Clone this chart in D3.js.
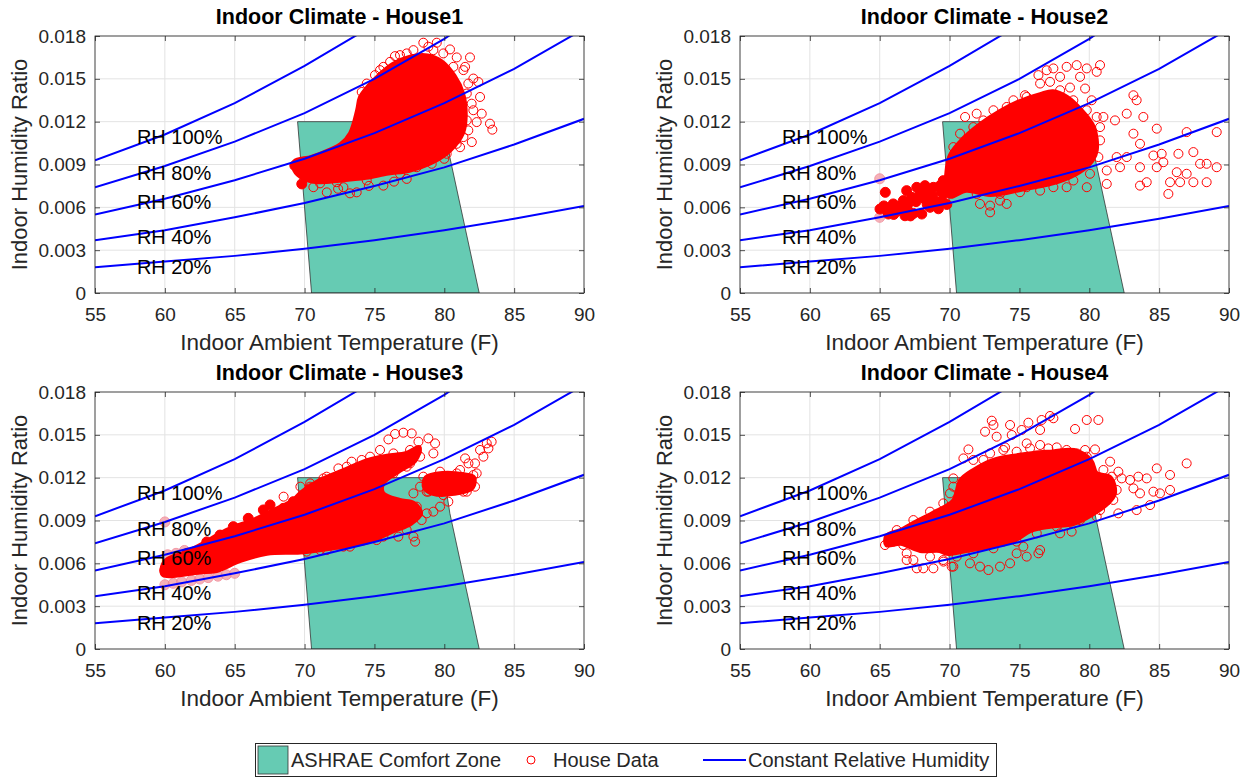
<!DOCTYPE html>
<html>
<head>
<meta charset="utf-8">
<script src="https://cdn.jsdelivr.net/npm/d3@7"></script>
<style>
  body { margin: 0; background: #fff; }
  text { font-family: "Liberation Sans", Arial, Helvetica, sans-serif; }
</style>
</head>
<body>
<svg id="chart" width="1251" height="779"></svg>
<script>
// ---- axes / reference curves ----
const xTicks = [55, 60, 65, 70, 75, 80, 85, 90];
const yTicks = [0, 0.003, 0.006, 0.009, 0.012, 0.015, 0.018];

// constant relative humidity curves, read at 5 F steps
const rhTemps = [55, 60, 65, 70, 75, 80, 85, 90];
const rh100 = [0.0093, 0.0111, 0.0133, 0.0159, 0.0188, 0.0223, 0.0264, 0.0312];
const rh80  = [0.0074, 0.0089, 0.0106, 0.0126, 0.0150, 0.0178, 0.0211, 0.0249];
const rh60  = [0.0055, 0.0066, 0.0079, 0.0094, 0.0112, 0.0133, 0.0157, 0.0185];
const rh40  = [0.0037, 0.0044, 0.0053, 0.0063, 0.0075, 0.0088, 0.0104, 0.0122];
const rh20  = [0.0018, 0.0022, 0.0026, 0.0031, 0.0037, 0.0044, 0.0052, 0.0061];
const rhLabels = ["RH 100%", "RH 80%", "RH 60%", "RH 40%", "RH 20%"];
const rhLabelT = 58;
const rhLabelW = [0.0109, 0.0084, 0.0064, 0.0039, 0.0018];

// ASHRAE comfort zone polygon
const zoneT = [69.5, 80.0, 80.4, 82.5, 70.5];
const zoneW = [0.012, 0.012, 0.0095, 0, 0];

// ---- house data (dense cores as outlines, sparse points individually) ----
const house1Core = [[69.3,0.0092],[70.5,0.0095],[71.8,0.0100],[72.6,0.0104],[73.3,0.0112],[73.8,0.0128],[74.0,0.0137],
  [74.6,0.0145],[75.3,0.0152],[76.3,0.0160],[77.5,0.0165],[78.8,0.0166],[79.8,0.0162],[80.7,0.0152],[81.3,0.0140],
  [81.5,0.0125],[81.3,0.0112],[80.4,0.0100],[79.2,0.0092],[77.5,0.0086],[76.0,0.0084],[74.4,0.0081],[72.5,0.0079],
  [71.0,0.0078],[70.0,0.0080],[69.3,0.0086]];
const house1Open = [[78.50,0.01753],[79.46,0.01753],[78.86,0.01725],[80.41,0.01706],[77.31,0.01678],[75.40,0.01561],
  [76.47,0.01659],[80.89,0.0165],[81.84,0.0165],[81.49,0.01584],[82.08,0.01502],[82.44,0.01478],[82.56,0.01373],
  [82.68,0.01256],[82.32,0.01197],[83.27,0.01186],[83.44,0.01144],[81.97,0.01057],[81.13,0.01021],[79.10,0.00905],
  [77.31,0.00799],[75.64,0.00752],[73.25,0.00698],[71.59,0.00705],[73.73,0.00705],[71.11,0.00768],[72.4,0.0073],
  [74.6,0.0075],[76.4,0.0078],[80.0,0.0094],
  [81.37,0.01561],[81.72,0.01467],[81.61,0.01397],[81.96,0.01326],[82.08,0.01280],[81.61,0.01209],[81.72,0.01139],
  [81.37,0.01092],[80.89,0.01045],[80.17,0.00975],[80.65,0.01584],[79.93,0.01678],[79.22,0.01701],[77.79,0.01701],
  [76.83,0.01666],[76.12,0.01619],[75.64,0.01584],[75.04,0.01526],[74.45,0.01467],[74.09,0.01408],[78.03,0.00881],
  [76.83,0.00835],[74.45,0.00788],[72.78,0.00741],[72.30,0.00776],[70.63,0.00741],[70.15,0.00811]];
const house1Filled = [[69.3,0.00893],[69.8,0.00764]];

const house2Core = [[70.0,0.0095],[70.8,0.0106],[72.2,0.0118],[73.6,0.0127],[75.0,0.0134],[76.5,0.0139],[77.4,0.0141],
  [78.4,0.0137],[79.4,0.0128],[80.3,0.0116],[80.5,0.0100],[80.2,0.0093],[79.3,0.0085],[77.7,0.0078],[75.3,0.0073],
  [72.9,0.0069],[71.2,0.0072],[70.0,0.0068]];
const house2Open = [[76.36,0.01526],[77.43,0.01573],[78.38,0.01584],[79.10,0.01596],[79.82,0.01573],[80.77,0.01596],
  [80.53,0.01549],[79.34,0.01514],[78.62,0.01439],[76.48,0.01467],[75.40,0.01385],[74.57,0.0135],[73.14,0.0128],
  [71.94,0.01256],[71.11,0.01233],[70.75,0.01116],[80.17,0.0135],[81.01,0.01233],[80.77,0.01162],[81.84,0.01209],
  [82.68,0.01256],[83.16,0.01385],[83.39,0.0135],[83.87,0.01233],[84.83,0.01151],[86.97,0.01127],[89.12,0.01127],
  [83.16,0.01116],[83.63,0.01045],[84.59,0.00963],[85.18,0.00975],[86.38,0.00975],[87.45,0.00987],[85.30,0.00916],
  [86.26,0.00846],[86.97,0.00835],[87.93,0.00905],[88.40,0.00905],[89.12,0.00881],[85.78,0.00776],[86.50,0.00776],
  [87.45,0.00776],[88.40,0.00776],[83.63,0.00752],[84.11,0.00776],[85.66,0.00694],[82.20,0.00881],[81.25,0.00858],
  [81.25,0.00764],[79.82,0.00741],[78.38,0.00741],[76.48,0.00717],[75.04,0.00706],[74.09,0.00624],[72.90,0.00565],
  [72.90,0.00612],[73.61,0.00647],[72.18,0.00624],[70.27,0.00905],[70.99,0.00858],[81.96,0.00952],[82.68,0.00952],
  [83.63,0.00881],[84.83,0.00881],[76.95,0.0156],[77.91,0.01514],[79.70,0.01432],
  [71.70,0.01162],[72.42,0.01209],[74.09,0.01303],[75.52,0.01373],[77.19,0.01479],[77.91,0.01420],[78.86,0.01350],
  [79.82,0.01280],[80.53,0.01233],[80.77,0.01069],[80.65,0.00952],[80.05,0.00835],[78.86,0.00788],[77.43,0.00741],
  [75.52,0.00741],[73.61,0.00694],[71.94,0.00694],[70.75,0.00741],[70.03,0.00835],[70.27,0.01022]];
const house2Filled = [[65.02,0.00588],[65.62,0.00553],[66.22,0.00572],[66.81,0.00541],[67.41,0.00557],[68.01,0.00553],
  [65.97,0.00624],[66.69,0.00647],[67.29,0.0067],[67.88,0.00694],[68.48,0.00705],[68.84,0.0074],[69.32,0.00752],
  [69.55,0.00787],[70.03,0.00823],[66.93,0.00717],[67.65,0.0074],[68.24,0.00752],[68.84,0.00647],[69.44,0.00647],
  [65.4,0.00705],[65.3,0.0061],[65.5,0.0058],[67.0,0.0058],[68.4,0.0062],[69.8,0.0070],
  [65.8,0.0058],[66.4,0.0060],[67.0,0.0062],[67.6,0.0064],[68.2,0.0066],[68.8,0.0068],[69.4,0.0071],[66.0,0.0055],
  [67.2,0.0054],[68.6,0.0060],[69.2,0.0059],[69.8,0.0062],[70.0,0.0073],[70.2,0.0077]];
const house2Faint = [[65.0,0.0080],[65.0,0.0053]];

const house3Core = [[59.8,0.0056],[60.1,0.0062],[61.6,0.0068],[63.0,0.0075],[64.0,0.0081],[64.9,0.0085],[66.3,0.0090],
  [67.8,0.0097],[69.2,0.0104],[69.7,0.0109],[71.1,0.0118],[72.8,0.0125],[74.5,0.0132],[75.9,0.0135],[77.3,0.0137],
  [78.2,0.0141],[77.9,0.0132],[76.8,0.0125],[75.6,0.0116],[75.6,0.0109],[76.8,0.0104],[77.8,0.0102],[78.3,0.0095],
  [77.6,0.0088],[76.4,0.0083],[74.5,0.0075],[72.1,0.0071],[69.7,0.0068],[67.3,0.0067],[65.4,0.0062],[63.7,0.0055],
  [62.5,0.0054],[59.9,0.0052]];
const house3RightCore = [[78.7,0.0120],[79.9,0.0123],[81.4,0.0122],[82.1,0.0120],[82.0,0.0113],[80.7,0.0109],
  [79.2,0.0109],[78.6,0.0113]];
const house3Open = [[76.00,0.01468],[76.48,0.01506],[77.07,0.01515],[77.67,0.01510],[78.15,0.01452],[78.86,0.01475],
  [79.34,0.01440],[79.22,0.01370],[78.03,0.01382],[75.40,0.01394],[74.09,0.01324],[73.37,0.01312],[72.42,0.01265],
  [71.35,0.01195],[70.39,0.01137],[77.31,0.01277],[81.49,0.01335],[81.73,0.01300],[82.20,0.01300],[82.56,0.01394],
  [82.80,0.01347],[83.16,0.01405],[83.39,0.01452],[83.04,0.01440],[81.13,0.01254],[80.29,0.01032],[79.70,0.00997],
  [79.22,0.00962],[78.74,0.00950],[77.79,0.00787],[77.91,0.00752],[76.71,0.00787],[75.64,0.00787],[73.25,0.00717],
  [71.58,0.00693],[70.15,0.00682],[78.27,0.01137],[77.79,0.01090],[77.31,0.00997],[81.61,0.01102],[78.86,0.01102],
  [82.32,0.01230],[69.7,0.01137],[68.5,0.01067],[70.4,0.0116],
  [70.39,0.01125],[71.58,0.01207],[73.02,0.01277],[74.69,0.01347],[76.36,0.01370],[77.55,0.01394],[78.27,0.01347],
  [77.55,0.01300],[76.36,0.01230],[75.88,0.01044],[78.03,0.00997],[78.38,0.00903],[77.31,0.00833],[75.16,0.00763],
  [72.78,0.00717],[71.11,0.00693],[78.50,0.01207],[79.70,0.01242],[80.89,0.01230],[82.08,0.01218],[82.20,0.01137],
  [81.37,0.01102],[79.93,0.01078],[78.74,0.01102]];
const house3Filled = [[63.95,0.00798],[64.9,0.00857],[65.97,0.00915],[67.05,0.00974],[67.53,0.01009],[68.48,0.00985],
  [69.2,0.01032],[63.0,0.0075],[61.6,0.0067],[60.4,0.0060],[60.0,0.0055],[60.85,0.00565],[62.04,0.0060],[63.47,0.00623],
  [64.9,0.00658],[66.33,0.00693],[67.76,0.00717],[69.2,0.0074]];
const house3Faint = [[60.0,0.0089],[60.0,0.0045],[60.6,0.0046],[61.2,0.0047],[61.9,0.0048],[62.5,0.0049],[63.1,0.0050],
  [63.8,0.0051],[64.4,0.0052],[65.0,0.0053],[60.2,0.0066],[60.8,0.0067],[61.4,0.0069]];

const house4Core = [[65.5,0.0079],[66.5,0.0083],[67.4,0.0088],[68.8,0.0095],[70.3,0.0104],[70.8,0.0118],[71.7,0.0125],
  [73.1,0.0132],[74.6,0.0135],[76.0,0.0137],[77.4,0.0138],[78.9,0.0139],[80.1,0.0132],[80.5,0.0123],[81.5,0.0120],
  [81.8,0.0109],[81.3,0.0102],[80.3,0.0095],[78.9,0.0088],[77.2,0.0086],[75.8,0.0083],[74.6,0.0076],[72.9,0.0072],
  [71.2,0.0069],[69.8,0.0067],[69.3,0.0069],[67.9,0.0069],[66.5,0.0074],[65.5,0.0073]];
const house4Open = [[73.02,0.01599],[73.14,0.01569],[72.54,0.01522],[73.37,0.01487],[74.33,0.01569],[74.45,0.01499],
  [75.16,0.01534],[75.64,0.01585],[76.48,0.01534],[77.19,0.01632],[77.43,0.01616],[76.59,0.01604],[78.98,0.01541],
  [79.82,0.01604],[80.65,0.01604],[71.35,0.01398],[70.99,0.01335],[72.42,0.01324],[73.97,0.01412],[75.52,0.01440],
  [76.48,0.01429],[77.07,0.01405],[78.38,0.01394],[79.70,0.01394],[80.41,0.01398],[81.49,0.01312],[82.08,0.01242],
  [82.32,0.01195],[82.92,0.01184],[83.51,0.01207],[84.11,0.01195],[84.83,0.01265],[85.78,0.01219],[86.97,0.01300],
  [83.16,0.01125],[83.63,0.01090],[84.59,0.01102],[85.06,0.01090],[85.78,0.01114],[84.35,0.01008],[83.39,0.00973],
  [82.08,0.00950],[80.53,0.00927],[78.74,0.00822],[77.91,0.00810],[76.48,0.00693],[76.36,0.00670],[75.52,0.00647],
  [74.80,0.00670],[74.33,0.00600],[73.61,0.00577],[72.78,0.00553],[72.18,0.00577],[71.46,0.00600],[70.27,0.00577],
  [69.56,0.00612],[75.28,0.00717],[73.85,0.00752],[65.38,0.00728],[65.98,0.00752],[66.93,0.00670],[67.41,0.00623],
  [67.65,0.00565],[68.12,0.00565],[68.84,0.00565],[66.93,0.00623],[68.60,0.00647],[69.55,0.00623],[70.15,0.00577],
  [70.27,0.01195],[68.12,0.00857],[66.93,0.00810],
  [71.70,0.01324],[72.90,0.01370],[73.85,0.01394],[74.80,0.01382],[75.76,0.01405],[77.67,0.01412],[79.10,0.01370],
  [79.82,0.01347],[81.01,0.01254],[81.61,0.01207],[81.96,0.01114],[81.72,0.01044],[80.77,0.00973],[79.34,0.00903],
  [77.67,0.00857],[76.24,0.00810],[74.80,0.00752],[73.14,0.00705],[71.70,0.00670],[70.51,0.00647],[69.32,0.00717],
  [66.22,0.00833],[67.41,0.00903],[68.60,0.00962],[69.55,0.01020],[70.03,0.01090],[70.27,0.01137],[66.69,0.00728],
  [68.36,0.00717]];

const panels = [
  {title: "Indoor Climate - House1", left: 95,  top: 36,  cores: [house1Core], open: house1Open, filled: house1Filled, faint: []},
  {title: "Indoor Climate - House2", left: 740, top: 36,  cores: [house2Core], open: house2Open, filled: house2Filled, faint: house2Faint},
  {title: "Indoor Climate - House3", left: 95,  top: 392, cores: [house3Core, house3RightCore], open: house3Open, filled: house3Filled, faint: house3Faint},
  {title: "Indoor Climate - House4", left: 740, top: 392, cores: [house4Core], open: house4Open, filled: [], faint: []}
];

const W = 489, H = 257;
const RED = "#ff0000", BLUE = "#0000ff", ZONE = "#66cbb3", INK = "#262626";
const rhSeries = [rh100, rh80, rh60, rh40, rh20];

const svg = d3.select("#chart");
const defs = svg.append("defs");

panels.forEach(function(p, i) {
  const x = d3.scaleLinear().domain([55, 90]).range([0, W]);
  const y = d3.scaleLinear().domain([0, 0.018]).range([H, 0]);

  defs.append("clipPath").attr("id", "clip" + i)
    .append("rect").attr("width", W).attr("height", H);

  const g = svg.append("g").attr("transform", `translate(${p.left},${p.top})`);

  // grid
  g.append("g").selectAll("line").data(xTicks).join("line")
    .attr("x1", d => x(d)).attr("x2", d => x(d)).attr("y1", 0).attr("y2", H)
    .attr("stroke", "#e3e3e3");
  g.append("g").selectAll("line").data(yTicks).join("line")
    .attr("y1", d => y(d)).attr("y2", d => y(d)).attr("x1", 0).attr("x2", W)
    .attr("stroke", "#e3e3e3");

  const plot = g.append("g").attr("clip-path", `url(#clip${i})`);

  // comfort zone
  plot.append("path")
    .datum(zoneT.map((t, k) => [t, zoneW[k]]))
    .attr("d", d3.line().x(d => x(d[0])).y(d => y(d[1])).curve(d3.curveLinearClosed))
    .attr("fill", ZONE).attr("stroke", "#333").attr("stroke-width", 0.8);

  // faint points
  plot.append("g").selectAll("circle").data(p.faint).join("circle")
    .attr("cx", d => x(d[0])).attr("cy", d => y(d[1])).attr("r", 5)
    .attr("fill", "#f4a0a8").attr("stroke", "#f08090").attr("stroke-width", 1).attr("opacity", 0.8);

  // dense cores
  const coreLine = d3.line().x(d => x(d[0])).y(d => y(d[1])).curve(d3.curveCatmullRomClosed.alpha(0.5));
  plot.append("g").selectAll("path").data(p.cores).join("path")
    .attr("d", coreLine)
    .attr("fill", RED).attr("stroke", RED).attr("stroke-width", 5).attr("stroke-linejoin", "round");

  // open circles
  plot.append("g").selectAll("circle").data(p.open).join("circle")
    .attr("cx", d => x(d[0])).attr("cy", d => y(d[1])).attr("r", 4.5)
    .attr("fill", "none").attr("stroke", RED).attr("stroke-width", 1);

  // filled dots
  plot.append("g").selectAll("circle").data(p.filled).join("circle")
    .attr("cx", d => x(d[0])).attr("cy", d => y(d[1])).attr("r", 5)
    .attr("fill", RED).attr("stroke", RED).attr("stroke-width", 1);

  // RH curves
  const rhLine = d3.line().x((d, k) => x(rhTemps[k])).y(d => y(d));
  plot.append("g").selectAll("path").data(rhSeries).join("path")
    .attr("d", rhLine).attr("fill", "none").attr("stroke", BLUE).attr("stroke-width", 2);

  // RH labels
  g.append("g").selectAll("text").data(rhLabels).join("text")
    .attr("x", x(rhLabelT)).attr("y", (d, k) => y(rhLabelW[k])).attr("dy", "0.35em")
    .attr("font-size", 20).attr("fill", "#000").text(d => d);

  // axes
  const fmtY = d => d === 0 ? "0" : d3.format(".3f")(d);
  const ax = g.append("g").attr("transform", `translate(0,${H})`)
    .call(d3.axisBottom(x).tickValues(xTicks).tickSizeInner(-5).tickSizeOuter(0).tickPadding(15));
  const ay = g.append("g")
    .call(d3.axisLeft(y).tickValues(yTicks).tickFormat(fmtY).tickSizeInner(-5).tickSizeOuter(0).tickPadding(9));
  const at = g.append("g")
    .call(d3.axisTop(x).tickValues(xTicks).tickFormat("").tickSizeInner(-5).tickSizeOuter(0));
  const ar = g.append("g").attr("transform", `translate(${W},0)`)
    .call(d3.axisRight(y).tickValues(yTicks).tickFormat("").tickSizeInner(-5).tickSizeOuter(0));
  [ax, ay, at, ar].forEach(a => {
    a.select(".domain").remove();
    a.selectAll("line").attr("stroke", INK).attr("stroke-width", 0.8);
    a.selectAll("text").attr("font-size", 19).attr("fill", INK)
      .attr("font-family", '"Liberation Sans", Arial, sans-serif');
  });

  g.append("rect").attr("width", W).attr("height", H)
    .attr("fill", "none").attr("stroke", INK).attr("stroke-width", 0.8);

  // titles and labels
  g.append("text").attr("x", W / 2).attr("y", -12).attr("text-anchor", "middle")
    .attr("font-size", 21.5).attr("font-weight", "bold").attr("fill", "#000").text(p.title);
  g.append("text").attr("x", W / 2).attr("y", H + 57).attr("text-anchor", "middle")
    .attr("font-size", 22.5).attr("fill", INK).text("Indoor Ambient Temperature (F)");
  g.append("text").attr("transform", `translate(-68,${H / 2}) rotate(-90)`).attr("text-anchor", "middle")
    .attr("font-size", 22).attr("fill", INK).text("Indoor Humidity Ratio");
});

// legend
const lg = svg.append("g");
lg.append("rect").attr("x", 255.5).attr("y", 743.5).attr("width", 741).attr("height", 33)
  .attr("fill", "#fff").attr("stroke", INK).attr("stroke-width", 1);
lg.append("rect").attr("x", 258).attr("y", 746).attr("width", 30).attr("height", 28)
  .attr("fill", ZONE).attr("stroke", "#333").attr("stroke-width", 0.8);
lg.append("text").attr("x", 291).attr("y", 767).attr("font-size", 20).attr("fill", INK).text("ASHRAE Comfort Zone");
lg.append("circle").attr("cx", 531).attr("cy", 760).attr("r", 4)
  .attr("fill", "none").attr("stroke", RED).attr("stroke-width", 1);
lg.append("text").attr("x", 553).attr("y", 767).attr("font-size", 20).attr("fill", INK).text("House Data");
lg.append("line").attr("x1", 703).attr("x2", 746).attr("y1", 760).attr("y2", 760)
  .attr("stroke", BLUE).attr("stroke-width", 2);
lg.append("text").attr("x", 748).attr("y", 767).attr("font-size", 20).attr("fill", INK).text("Constant Relative Humidity");
</script>
</body>
</html>
